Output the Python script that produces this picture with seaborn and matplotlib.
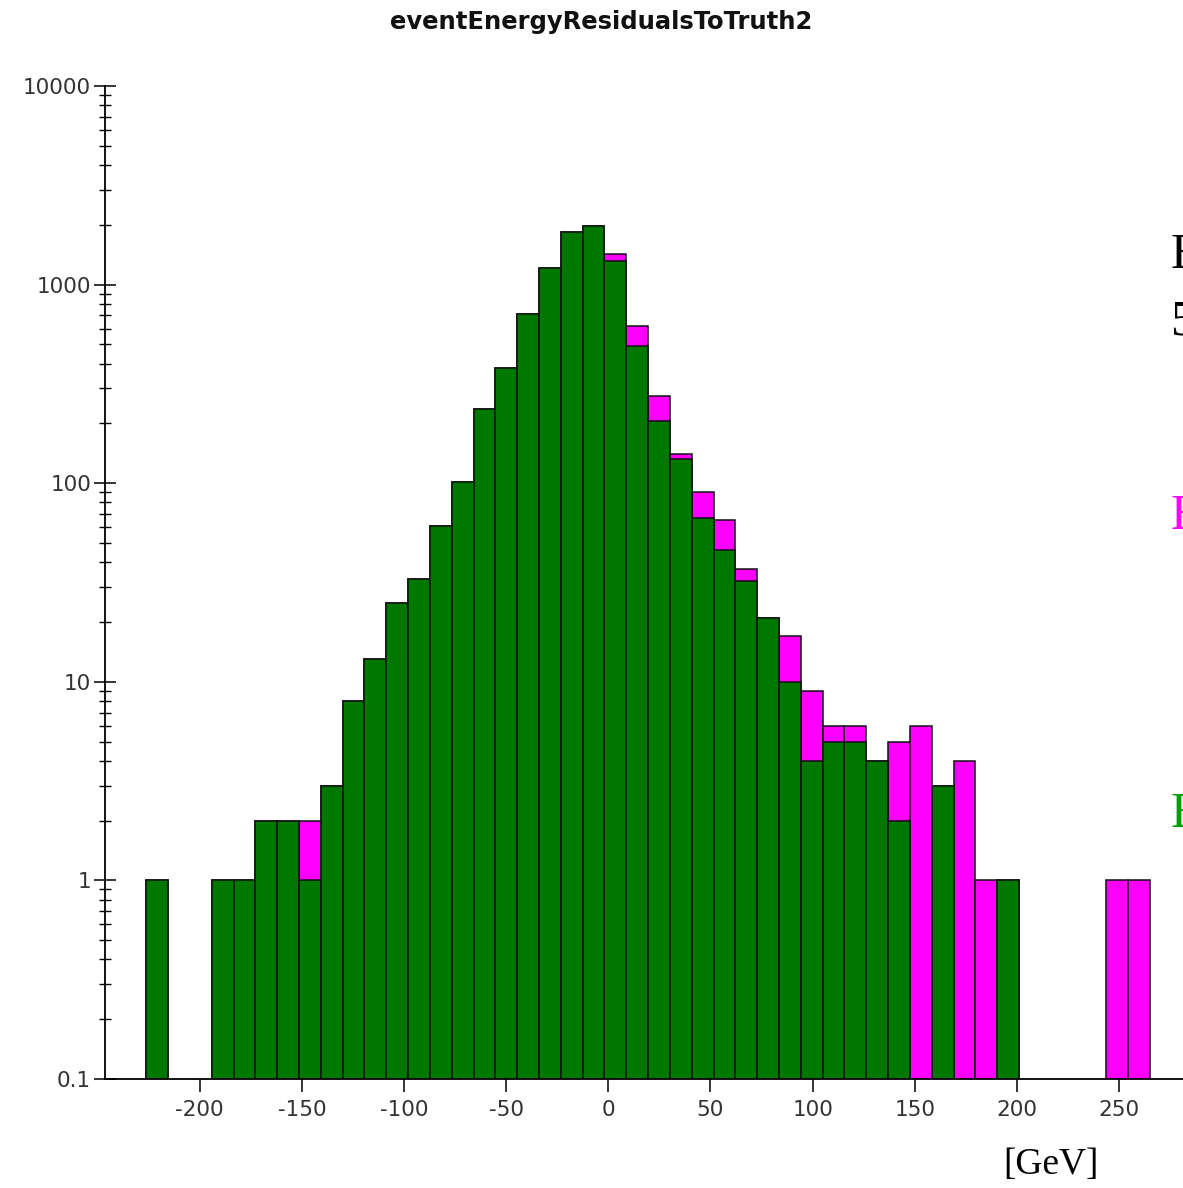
import numpy as np
import pandas as pd
import matplotlib
matplotlib.use("Agg")
import matplotlib.pyplot as plt
from matplotlib.ticker import LogLocator, FixedLocator, FixedFormatter
import seaborn as sns

# histogram binning
bin_lo = -226.2
bin_width = 10.68
n_bins = 46

# counts per bin: green = selected sample, total = green + magenta on top
green_counts = [1, 0, 0, 1, 1, 2, 2, 1, 3, 8,
                13, 25, 33, 61, 101, 236, 382, 711, 1217, 1846,
                1981, 1319, 492, 206, 132, 67, 46, 32, 21, 10,
                4, 5, 5, 4, 2, 0, 3, 0, 0, 1,
                0, 0, 0, 0, 0, 0]
total_counts = [1, 0, 0, 1, 1, 2, 2, 2, 3, 8,
                13, 25, 33, 61, 101, 236, 382, 711, 1217, 1846,
                1981, 1426, 619, 275, 140, 90, 65, 37, 21, 17,
                9, 6, 6, 4, 5, 6, 3, 4, 1, 1,
                0, 0, 0, 0, 1, 1]

x_ticks = [-200, -150, -100, -50, 0, 50, 100, 150, 200, 250]
y_ticks = [0.1, 1, 10, 100, 1000, 10000]
y_tick_labels = ["0.1", "1", "10", "100", "1000", "10000"]

bin_hi = bin_lo + bin_width * n_bins
centers = bin_lo + bin_width * (np.arange(n_bins) + 0.5)
df = pd.DataFrame({"x": centers, "green": green_counts, "total": total_counts})

sns.set_style("white")
plt.rcParams["font.family"] = ["DejaVu Sans"]

fig = plt.figure(figsize=(11.83, 11.88), dpi=100)
ax = fig.add_axes([105 / 1183, 109 / 1188, 1 - 105 / 1183, 993 / 1188])

sns.histplot(data=df, x="x", weights="total", binwidth=bin_width,
             binrange=(bin_lo, bin_hi), color="#ff00ff",
             alpha=1, edgecolor="#111111", linewidth=1.1, ax=ax)
sns.histplot(data=df, x="x", weights="green", binwidth=bin_width,
             binrange=(bin_lo, bin_hi), color="#007800",
             alpha=1, edgecolor="#111111", linewidth=1.1, ax=ax)

ax.set_yscale("log")
ax.set_ylim(0.1, 10000)
ax.set_xlim(-246.4, 281.3)
ax.set_xlabel("")
ax.set_ylabel("")

for side in ["top", "right"]:
    ax.spines[side].set_visible(False)
for side in ["left", "bottom"]:
    ax.spines[side].set_color("black")
    ax.spines[side].set_linewidth(1.3)

ax.xaxis.set_major_locator(FixedLocator(x_ticks))
ax.set_xticklabels([str(t) for t in x_ticks])
ax.yaxis.set_major_locator(FixedLocator(y_ticks))
ax.yaxis.set_major_formatter(FixedFormatter(y_tick_labels))
ax.yaxis.set_minor_locator(LogLocator(base=10, subs=np.arange(2, 10)))
ax.yaxis.set_minor_formatter(plt.NullFormatter())

ax.tick_params(axis="x", which="major", direction="out", length=9, width=1.1,
               color="black", labelsize=15.5, labelcolor="#333333", pad=6,
               bottom=True)
ax.tick_params(axis="y", which="major", direction="inout", length=16, width=1.1,
               color="black", labelsize=15.5, labelcolor="#333333", pad=2,
               left=True)
ax.tick_params(axis="y", which="minor", direction="inout", length=9, width=1.0,
               color="black", left=True)

fig.text(0.508, 1 - 22 / 1188, "eventEnergyResidualsToTruth2", ha="center",
         va="center", fontsize=17.5, fontweight="bold", color="#111111")

# unit label and cut-off legend text at the right edge
fig.text(1051 / 1183, 1 - 1165 / 1188, "[GeV]", ha="center", va="center",
         fontsize=27, family="Liberation Serif", color="black")
fig.text(1171 / 1183, 1 - 255 / 1188, "Entries", ha="left", va="center",
         fontsize=36, family="Liberation Serif", color="black")
fig.text(1171 / 1183, 1 - 322 / 1188, "5000", ha="left", va="center",
         fontsize=36, family="Liberation Serif", color="black")
fig.text(1171 / 1183, 1 - 517 / 1188, "E", ha="left", va="center",
         fontsize=36, family="Liberation Serif", color="#ff00ff")
fig.text(1171 / 1183, 1 - 815 / 1188, "E", ha="left", va="center",
         fontsize=36, family="Liberation Serif", color="#00a000")

fig.savefig("out.png", dpi=100)
